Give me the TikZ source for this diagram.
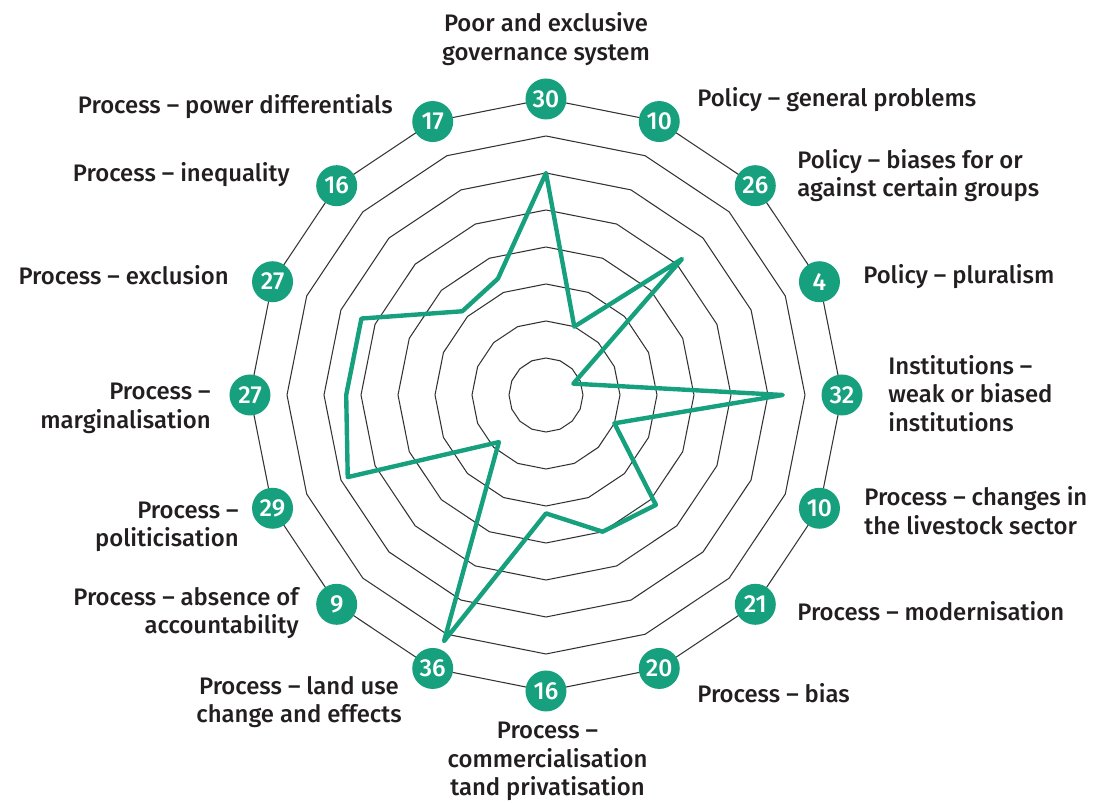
\documentclass[tikz,border=0pt]{standalone}
\usepackage{fontspec}
\setmainfont{Fira Sans}[UprightFont={* Medium}]
\usepackage{tikz}
\usetikzlibrary{positioning,shapes.geometric}
\definecolor{chartgreen}{RGB}{22,160,126}
\definecolor{labelgray}{RGB}{35,31,32}
\tikzstyle{ring}=[regular polygon, regular polygon sides=16, regular polygon rotate=11.25, draw=black!80, line width=0.6pt, inner sep=0pt]
\tikzstyle{num}=[circle, fill=chartgreen, text=white, inner sep=0pt, minimum size=0.82cm, font=\fontsize{14}{16}\selectfont]
\tikzstyle{lbl}=[text=labelgray, inner sep=0pt, font=\fontsize{13.6}{16.2}\selectfont]

\begin{document}
\begin{tikzpicture}
						\useasboundingbox (-10.92,-8.16) rectangle (11.10,7.90);
						% rings
						\node[ring, minimum size=1.48cm] (r1) at (0,0) {};
						\node[ring, minimum size=2.96cm] (r2) at (0,0) {};
						\node[ring, minimum size=4.44cm] (r3) at (0,0) {};
						\node[ring, minimum size=5.92cm] (r4) at (0,0) {};
						\node[ring, minimum size=7.40cm] (r5) at (0,0) {};
						\node[ring, minimum size=8.88cm] (r6) at (0,0) {};
						\node[ring, minimum size=10.36cm] (r7) at (0,0) {};
						\node[ring, minimum size=11.84cm] (r8) at (0,0) {};
						% data
						\coordinate (p0) at (90:4.44);
						\coordinate (p1) at (67.5:1.48);
						\coordinate (p2) at (45:3.848);
						\coordinate (p3) at (22.5:0.592);
						\coordinate (p4) at (0:4.736);
						\coordinate (p5) at (-22.5:1.48);
						\coordinate (p6) at (-45:3.108);
						\coordinate (p7) at (-67.5:2.96);
						\coordinate (p8) at (-90:2.368);
						\coordinate (p9) at (-112.5:5.328);
						\coordinate (p10) at (-135:1.332);
						\coordinate (p11) at (-157.5:4.292);
						\coordinate (p12) at (180:3.996);
						\coordinate (p13) at (157.5:3.996);
						\coordinate (p14) at (135:2.368);
						\coordinate (p15) at (112.5:2.516);
						\draw[chartgreen, line width=2.5pt, line join=round] (p0) -- (p1) -- (p2) -- (p3) -- (p4) -- (p5) -- (p6) -- (p7) -- (p8) -- (p9) -- (p10) -- (p11) -- (p12) -- (p13) -- (p14) -- (p15) -- cycle;
						% values
						\node[num] (n0) at (90:5.92) {30};
						\node[num] (n1) at (67.5:5.92) {10};
						\node[num] (n2) at (45:5.92) {26};
						\node[num] (n3) at (22.5:5.92) {4};
						\node[num] (n4) at (0:5.92) {32};
						\node[num] (n5) at (-22.5:5.92) {10};
						\node[num] (n6) at (-45:5.92) {21};
						\node[num] (n7) at (-67.5:5.92) {20};
						\node[num] (n8) at (-90:5.92) {16};
						\node[num] (n9) at (-112.5:5.92) {36};
						\node[num] (n10) at (-135:5.92) {9};
						\node[num] (n11) at (-157.5:5.92) {29};
						\node[num] (n12) at (180:5.92) {27};
						\node[num] (n13) at (157.5:5.92) {27};
						\node[num] (n14) at (135:5.92) {16};
						\node[num] (n15) at (112.5:5.92) {17};
						% labels
						\node[lbl, align=center, anchor=south] (l0) at (0,6.58) {Poor and exclusive\\governance system};
						\node[lbl, anchor=west] (l1) at (3.02,5.90) {Policy -- general problems};
						\node[lbl, align=left, anchor=west] (l2) at (5.02,4.39) {Policy -- biases for or\\against certain groups};
						\node[lbl, anchor=west] (l3) at (6.34,2.36) {Policy -- pluralism};
						\node[lbl, align=left, anchor=west] (l4) at (6.84,0.03) {Institutions --\\weak or biased\\institutions};
						\node[lbl, align=left, anchor=west] (l5) at (6.36,-2.31) {Process -- changes in\\the livestock sector};
						\node[lbl, anchor=west] (l6) at (5.02,-4.33) {Process -- modernisation};
						\node[lbl, anchor=west] (l7) at (3.02,-5.97) {Process -- bias};
						\node[lbl, align=center, anchor=north] (l8) at (0.03,-6.54) {Process --\\commercialisation\\tand privatisation};
						\node[lbl, align=center, anchor=east] (l9) at (-2.88,-6.14) {Process -- land use\\change and effects};
						\node[lbl, align=right, anchor=east] (l10) at (-4.94,-4.36) {Process -- absence of\\accountability};
						\node[lbl, align=right, anchor=east] (l11) at (-6.14,-2.64) {Process --\\politicisation};
						\node[lbl, align=right, anchor=east] (l12) at (-6.70,-0.27) {Process --\\marginalisation};
						\node[lbl, anchor=east] (l13) at (-6.34,2.40) {Process -- exclusion};
						\node[lbl, anchor=east] (l14) at (-5.12,4.40) {Process -- inequality};
						\node[lbl, anchor=east] (l15) at (-3.06,5.76) {Process -- power differentials};
					\end{tikzpicture}
\end{document}
